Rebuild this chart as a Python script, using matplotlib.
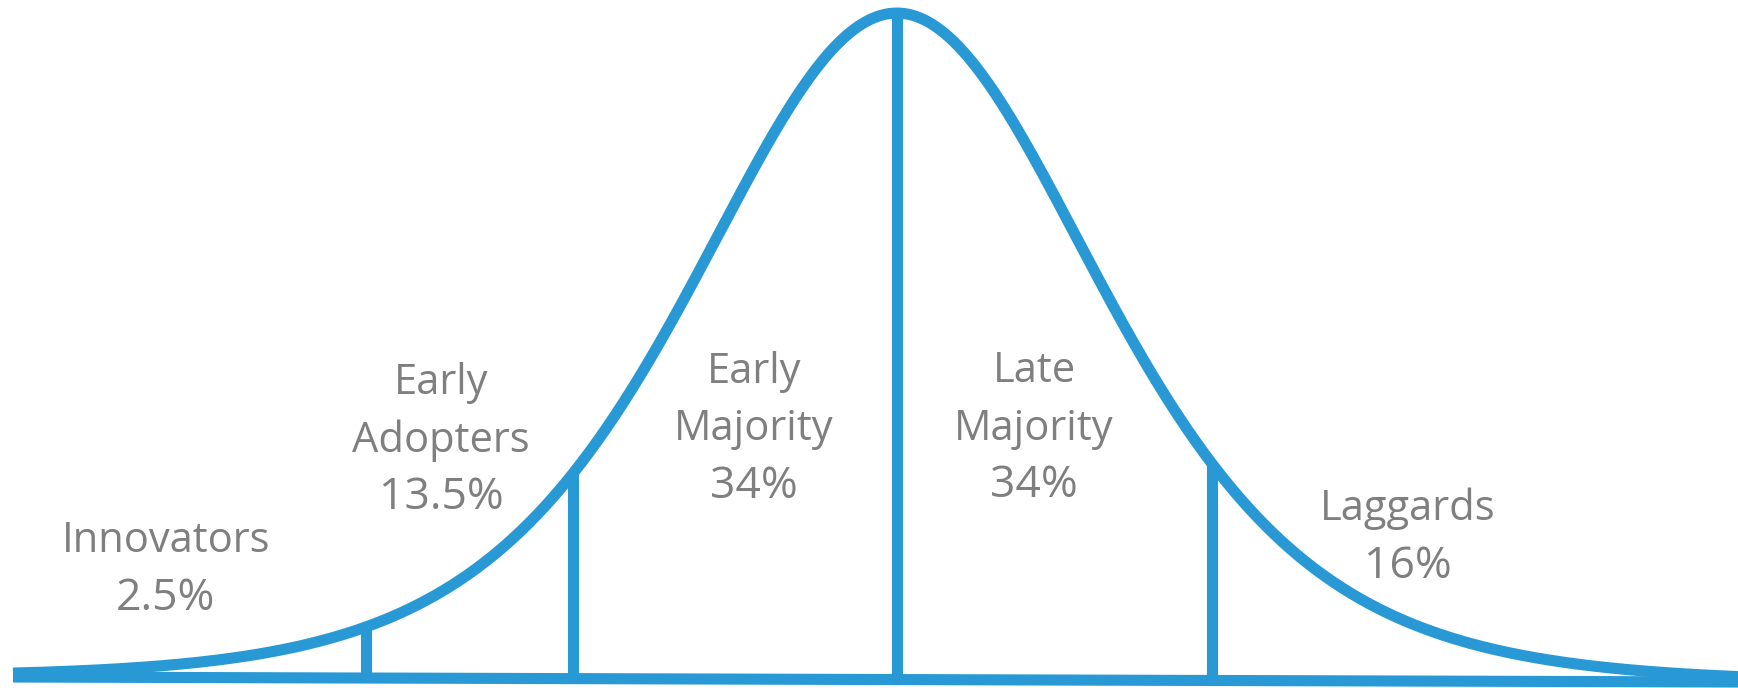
import numpy as np
import matplotlib
matplotlib.use("Agg")
import matplotlib.pyplot as plt

# ---- data ----
categories = ["Innovators", "Early\nAdopters", "Early\nMajority", "Late\nMajority", "Laggards"]
shares = [2.5, 13.5, 34, 34, 16]
share_labels = ["2.5%", "13.5%", "34%", "34%", "16%"]
# segment boundaries on the curve, in standard-deviation units
boundaries = [-1.67, -1.02, 0.0, 0.99]

# ---- style / layout ----
BLUE = "#2899D5"
GRAY = "#7F7F7F"
LW = 8.0
W, H, DPI = 1738, 688, 100
MU_PX, SIGMA_PX = 897.0, 318.0   # horizontal scale of the drawing
BASE_PX, PEAK_PX = 679.5, 13.0   # vertical scale of the drawing
CURVE_S = 0.853                  # curve width parameter

def px_to_y(py):
    return (BASE_PX - py) / (BASE_PX - PEAK_PX)

x_min = (0 - MU_PX) / SIGMA_PX
x_max = (W - MU_PX) / SIGMA_PX
x_start = (13 - MU_PX) / SIGMA_PX
y_min = px_to_y(H)
y_max = px_to_y(0)

tilt_left, tilt_right = px_to_y(677), px_to_y(682)
def baseline(z):
    return tilt_left + (tilt_right - tilt_left) * (np.asarray(z) - x_start) / (x_max - x_start)

def bell(z):
    z = np.asarray(z, dtype=float)
    return 1.0 / np.cosh(z / CURVE_S) ** 2

def curve(z):
    return baseline(z) + bell(z)

fig = plt.figure(figsize=(W / DPI, H / DPI), dpi=DPI)
ax = fig.add_axes([0, 0, 1, 1])
ax.set_xlim(x_min, x_max)
ax.set_ylim(y_min, y_max)
ax.axis("off")

# vertical segment separators
for b in boundaries:
    ax.plot([b, b], [baseline(b), curve(b)], color=BLUE, lw=LW, solid_capstyle="butt")

# baseline
xs = np.linspace(x_start, x_max, 800)
ax.plot(xs, baseline(xs), color=BLUE, lw=LW, solid_capstyle="butt")
# bell curve
ax.plot(xs, curve(xs), color=BLUE, lw=LW, solid_capstyle="butt", solid_joinstyle="round")

# labels: (center x in sd units, baseline of first text line in px)
label_pos = [(-2.299, 552), (-1.434, 394), (-0.450, 383), (0.431, 382), (1.607, 520)]
LINE_PITCH = 57.5
for cat, lab, (lx, ly) in zip(categories, share_labels, label_pos):
    lines = cat.split("\n") + [lab]
    for i, s in enumerate(lines):
        size = 32 if s == lab else 30
        ax.text(lx, px_to_y(ly + i * LINE_PITCH), s, ha="center", va="baseline",
                fontsize=size, color=GRAY, family=["Open Sans", "DejaVu Sans"])

fig.savefig("out.png", dpi=DPI)
